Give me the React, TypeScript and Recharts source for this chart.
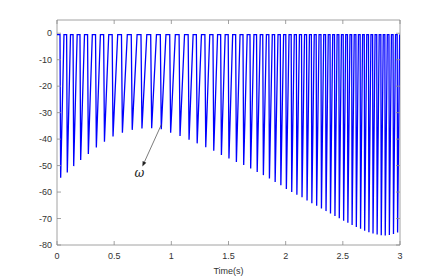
import React from 'react';
import { LineChart, Line, XAxis, YAxis, ReferenceArea, ReferenceLine } from 'recharts';

// Times (s) of each pulse minimum
const pulseTimes = [
  0.032, 0.090, 0.146, 0.207, 0.274, 0.344, 0.415, 0.490, 0.572, 0.658,
  0.743, 0.828, 0.912, 0.994, 1.076, 1.155, 1.226, 1.301, 1.371, 1.438,
  1.504, 1.569, 1.633, 1.694, 1.751, 1.805, 1.858, 1.908, 1.958, 2.006,
  2.053, 2.098, 2.143, 2.187, 2.229, 2.271, 2.313, 2.353, 2.392, 2.431,
  2.469, 2.507, 2.544, 2.581, 2.618, 2.655, 2.691, 2.728, 2.764, 2.800,
  2.836, 2.871, 2.907, 2.943, 2.979,
];
// Minimum value of each pulse
const pulseMins = [
  -54.6, -52.6, -50.2, -47.9, -45.6, -43.2, -41.0, -39.0, -37.6, -36.5,
  -36.0, -35.9, -36.3, -37.6, -38.8, -40.2, -41.6, -43.1, -44.4, -46.0,
  -47.3, -48.6, -49.8, -51.1, -52.4, -53.6, -54.9, -56.2, -57.4, -58.8,
  -60.0, -61.0, -62.0, -63.2, -64.2, -65.2, -66.2, -67.2, -68.1, -69.0,
  -69.9, -70.8, -71.6, -72.4, -73.2, -73.9, -74.6, -75.2, -75.7, -76.0,
  -76.3, -76.4, -76.2, -75.8, -75.3,
];
const topLevel = -0.5;
const xTicks = [0, 0.5, 1, 1.5, 2, 2.5, 3];
const yTicks = [0, -10, -20, -30, -40, -50, -60, -70, -80];
const arrowFrom = { t: 0.913, v: -34.5 };
const arrowTo = { t: 0.747, v: -50.3 };
const annotation = 'ω';

// waveform shape fractions (style)
const DROP_FRAC = 0.1;
const RISE_FRAC = 0.5;

const data: { t: number; v: number }[] = [{ t: 0, v: topLevel }];
pulseTimes.forEach((tb, i) => {
  const period = i < pulseTimes.length - 1 ? pulseTimes[i + 1] - tb : tb - pulseTimes[i - 1];
  const prevPeriod = i > 0 ? tb - pulseTimes[i - 1] : period;
  data.push({ t: tb - DROP_FRAC * prevPeriod, v: topLevel });
  data.push({ t: tb, v: pulseMins[i] });
  data.push({ t: tb + RISE_FRAC * period, v: topLevel });
});

const AXIS = '#8a8a8a';
const TEXT = '#333333';
const FONT = 'Liberation Sans, Arial, sans-serif';
const PLOT_W = 343;
const PLOT_H = 225;
const XM = 8;
const YM = 5;

const XTick = (p: any) => {
  const ay = p.y - XM;
  return (
    <g>
      <line x1={p.x} y1={ay} x2={p.x} y2={ay - 4} stroke={AXIS} strokeWidth={0.8} />
      <line x1={p.x} y1={ay - PLOT_H} x2={p.x} y2={ay - PLOT_H + 4} stroke={AXIS} strokeWidth={0.8} />
      <text x={p.x} y={p.y} dy="0.71em" textAnchor="middle" fontSize={9} fill={TEXT} fontFamily={FONT}>
        {String(p.payload.value)}
      </text>
    </g>
  );
};

const YTick = (p: any) => {
  const ax = p.x + YM;
  return (
    <g>
      <line x1={ax} y1={p.y} x2={ax + 4} y2={p.y} stroke={AXIS} strokeWidth={0.8} />
      <line x1={ax + PLOT_W} y1={p.y} x2={ax + PLOT_W - 4} y2={p.y} stroke={AXIS} strokeWidth={0.8} />
      <text x={p.x} y={p.y} dy="0.355em" textAnchor="end" fontSize={9} fill={TEXT} fontFamily={FONT}>
        {String(p.payload.value)}
      </text>
    </g>
  );
};

const Arrow = (p: any) => {
  const { x1, y1, x2, y2 } = p;
  const ang = Math.atan2(y2 - y1, x2 - x1);
  const L = 5;
  const W = 2;
  const bx = x2 - L * Math.cos(ang);
  const by = y2 - L * Math.sin(ang);
  const px = -Math.sin(ang) * W;
  const py = Math.cos(ang) * W;
  return (
    <g>
      <line x1={x1} y1={y1} x2={bx} y2={by} stroke="#444" strokeWidth={0.7} />
      <polygon points={`${x2},${y2} ${bx + px},${by + py} ${bx - px},${by - py}`} fill="#222" />
      <text x={x2 - 3} y={y2 + 11} fontSize={12} fontStyle="italic" fill="#222" fontFamily="DejaVu Serif, serif" textAnchor="middle">
        {annotation}
      </text>
    </g>
  );
};

export default function App() {
  return (
    <div style={{ position: 'absolute', left: 0, top: 0, width: 443, height: 277, background: '#fff' }}>
      <LineChart width={443} height={277} data={data} margin={{ top: 20, right: 43, bottom: 0, left: 0 }}>
        <ReferenceArea x1={0} x2={3} y1={-80} y2={5} fill="none" stroke={AXIS} strokeWidth={0.8} />
        <XAxis
          dataKey="t"
          type="number"
          domain={[0, 3]}
          ticks={xTicks}
          allowDataOverflow
          axisLine={false}
          tickLine={false}
          tickSize={0}
          tickMargin={XM}
          height={32}
          tick={<XTick />}
          label={{ value: 'Time(s)', position: 'insideBottom', offset: 3, fontSize: 9, fill: TEXT, fontFamily: FONT }}
        />
        <YAxis
          type="number"
          domain={[-80, 5]}
          ticks={yTicks}
          allowDataOverflow
          axisLine={false}
          tickLine={false}
          tickSize={0}
          tickMargin={YM}
          width={57}
          tick={<YTick />}
        />
        <Line dataKey="v" type="linear" stroke="#0000ff" strokeWidth={1.3} dot={false} isAnimationActive={false} />
        <ReferenceLine
          segment={[{ x: arrowFrom.t, y: arrowFrom.v }, { x: arrowTo.t, y: arrowTo.v }]}
          shape={<Arrow />}
        />
      </LineChart>
    </div>
  );
}
